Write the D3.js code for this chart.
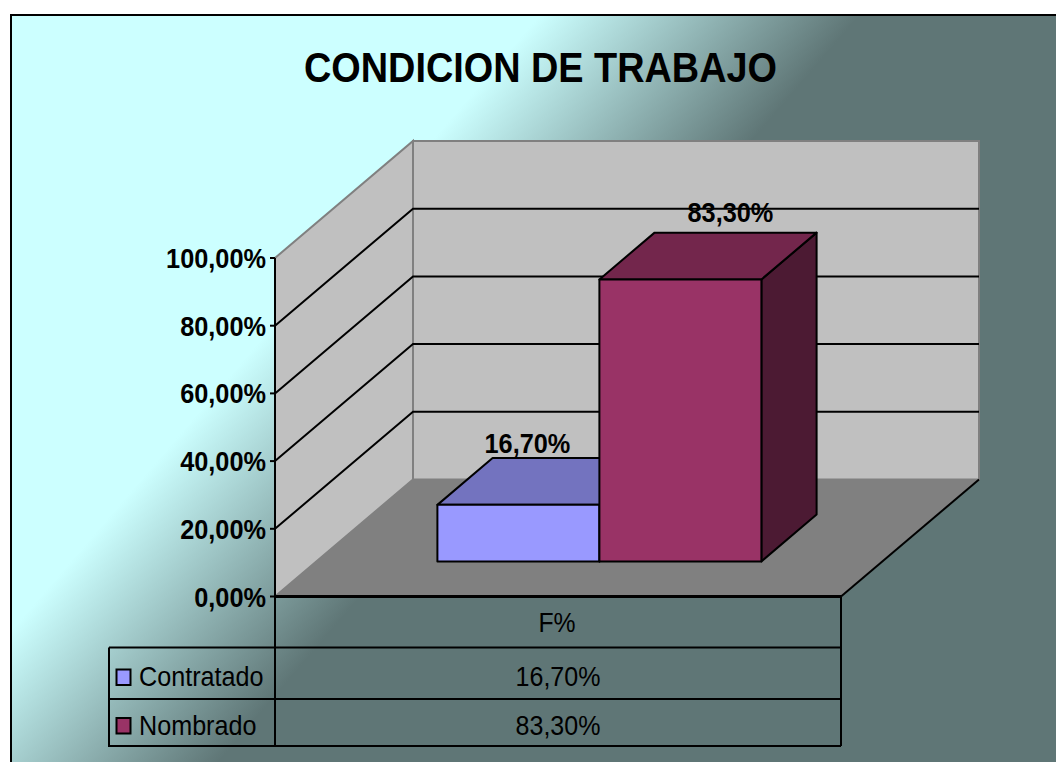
<!DOCTYPE html>
<html>
<head>
<meta charset="utf-8">
<script src="https://cdn.jsdelivr.net/npm/d3@7"></script>
<style>
  body { margin: 0; background: #fff; }
  svg { display: block; }
  text { font-family: "Liberation Sans", Arial, sans-serif; fill: #000; }
</style>
</head>
<body>
<svg width="1056" height="762"></svg>
<script>
const titleText = "CONDICION DE TRABAJO";
const groupName = "F%";
const seriesNames = ["Contratado", "Nombrado"];
const seriesValues = [16.7, 83.3];
const seriesColors = ["#9999ff", "#993366"];
const seriesTops = ["#7373bf", "#73264c"];
const seriesSides = ["#5c5c99", "#4c1a33"];
const yTicks = [0, 20, 40, 60, 80, 100];

const fmt = v => v.toFixed(2).replace(".", ",") + "%";

// the original text is narrow and tall, so squeeze it after measuring
function squeeze(sel, k) {
    sel.attr("lengthAdjust", "spacingAndGlyphs")
        .attr("textLength", function() { return this.getComputedTextLength() * k; });
}

const svg = d3.select("svg");

// frame and background
const grad = svg.append("defs").append("linearGradient")
    .attr("id", "bg")
    .attr("gradientUnits", "userSpaceOnUse")
    .attr("x1", 540).attr("y1", 15)
    .attr("x2", 724).attr("y2", 173);
grad.append("stop").attr("offset", 0).attr("stop-color", "#ccffff");
grad.append("stop").attr("offset", 1).attr("stop-color", "#5f7676");

svg.append("rect")
    .attr("x", 11).attr("y", 15)
    .attr("width", 1060).attr("height", 760)
    .attr("fill", "url(#bg)")
    .attr("stroke", "#000").attr("stroke-width", 2);

svg.append("text")
    .attr("x", 540.5).attr("y", 82)
    .attr("text-anchor", "middle")
    .attr("font-size", 42).attr("font-weight", "bold")
    .attr("textLength", 473).attr("lengthAdjust", "spacingAndGlyphs")
    .text(titleText);

// 3d projection: z 0 is the front of the floor, z 1 the back wall
const y = d3.scaleLinear().domain([0, 100]).range([596.5, 258]);
const x = d3.scaleBand().domain([groupName]).range([275, 841]);
const bars = d3.scaleBand().domain(seriesNames)
    .range([x(groupName) + 121, x(groupName) + x.bandwidth() - 121]);
const depthX = d3.scaleLinear().domain([0, 1]).range([0, 138]);
const depthY = d3.scaleLinear().domain([0, 1]).range([0, -117]);

const pt = (px, v, z) => [px + depthX(z), y(v) + depthY(z)];
const poly = pts => "M" + pts.join("L") + "Z";

const left = x.range()[0], right = x.range()[1];

const g = svg.append("g");

// walls
g.append("path")
    .attr("d", poly([pt(left, 0, 0), pt(left, 100, 0), pt(left, 100, 1), pt(left, 0, 1)]))
    .attr("fill", "#c0c0c0").attr("stroke", "#808080").attr("stroke-width", 2);
g.append("path")
    .attr("d", poly([pt(left, 0, 1), pt(left, 100, 1), pt(right, 100, 1), pt(right, 0, 1)]))
    .attr("fill", "#c0c0c0").attr("stroke", "#808080").attr("stroke-width", 2);
g.append("path")
    .attr("d", poly([pt(left, 0, 0), pt(left, 0, 1), pt(right, 0, 1), pt(right, 0, 0)]))
    .attr("fill", "#808080");
g.append("path")
    .attr("d", "M" + pt(right, 0, 0) + "L" + pt(right, 0, 1))
    .attr("stroke", "#000").attr("stroke-width", 2);

// gridlines on both walls
g.selectAll(".grid")
    .data(yTicks.slice(1, -1))
    .enter().append("path")
    .attr("class", "grid")
    .attr("fill", "none")
    .attr("stroke", "#000").attr("stroke-width", 2)
    .attr("d", d => "M" + pt(left, d, 0) + "L" + pt(left, d, 1) + "L" + pt(right, d, 1));

// bars
const zFront = 0.3, zBack = 0.7, base = 0;
seriesNames.forEach((name, i) => {
    const x0 = bars(name), x1 = x0 + bars.bandwidth();
    const v = seriesValues[i];
    const bar = g.append("g")
        .attr("stroke", "#000").attr("stroke-width", 2).attr("stroke-linejoin", "round");
    bar.append("path")
        .attr("d", poly([pt(x1, base, zFront), pt(x1, v, zFront), pt(x1, v, zBack), pt(x1, base, zBack)]))
        .attr("fill", seriesSides[i]);
    bar.append("path")
        .attr("d", poly([pt(x0, v, zFront), pt(x0, v, zBack), pt(x1, v, zBack), pt(x1, v, zFront)]))
        .attr("fill", seriesTops[i]);
    bar.append("path")
        .attr("d", poly([pt(x0, base, zFront), pt(x0, v, zFront), pt(x1, v, zFront), pt(x1, base, zFront)]))
        .attr("fill", seriesColors[i]);
});

// data labels
const labelDx = [9, 50];
const labelDy = [5, 11];
seriesNames.forEach((name, i) => {
    const p = pt(bars(name) + bars.bandwidth() / 2, seriesValues[i], zFront);
    const top = pt(bars(name), seriesValues[i], zBack);
    g.append("text")
        .attr("x", p[0] + labelDx[i])
        .attr("y", top[1] - labelDy[i])
        .attr("text-anchor", "middle")
        .attr("font-size", 27.5).attr("font-weight", "bold")
        .text(fmt(seriesValues[i]))
        .call(squeeze, 0.92);
});

// y axis labels
const axis = svg.append("g");
axis.selectAll("text")
    .data(yTicks)
    .enter().append("text")
    .attr("x", 266)
    .attr("y", d => y(d) + 10)
    .attr("text-anchor", "end")
    .attr("font-size", 27.5).attr("font-weight", "bold")
    .text(fmt)
    .call(squeeze, 0.92);
axis.selectAll("line")
    .data(yTicks)
    .enter().append("line")
    .attr("x1", 270).attr("x2", left)
    .attr("y1", d => y(d)).attr("y2", d => y(d))
    .attr("stroke", "#000").attr("stroke-width", 2);

// data table
const rowLines = [647.5, 699];
const tableBottom = 746;
const tableLeft = 109;
const table = svg.append("g").attr("stroke", "#000").attr("stroke-width", 2).attr("fill", "none");
table.append("path").attr("d", `M${left},${y(100)}V${tableBottom}`);
table.append("path").attr("d", `M${right},${y(0)}V${tableBottom}`);
table.append("path").attr("d", `M${left},${y(0)}H${right}`).attr("stroke-width", 3);
table.append("path").attr("d", `M${tableLeft},${rowLines[0]}V${tableBottom}H${right}`);
table.selectAll(".row")
    .data(rowLines)
    .enter().append("path")
    .attr("class", "row")
    .attr("d", d => `M${tableLeft},${d}H${right}`);

const rowBase = [685.5, 734.5];
const keyTop = [669.5, 718];
const center = (left + right) / 2;
const tableFont = 27.5;

svg.append("text")
    .attr("x", center - 1).attr("y", 631.5)
    .attr("text-anchor", "middle")
    .attr("font-size", tableFont)
    .text(groupName)
    .call(squeeze, 0.9);

seriesNames.forEach((name, i) => {
    svg.append("rect")
        .attr("x", 116.5).attr("y", keyTop[i])
        .attr("width", 14).attr("height", 15.5)
        .attr("fill", seriesColors[i])
        .attr("stroke", "#000").attr("stroke-width", 2);
    svg.append("text")
        .attr("x", 139).attr("y", rowBase[i])
        .attr("font-size", tableFont)
        .text(name)
        .call(squeeze, 0.915);
    svg.append("text")
        .attr("x", center).attr("y", rowBase[i])
        .attr("text-anchor", "middle")
        .attr("font-size", tableFont)
        .text(fmt(seriesValues[i]))
        .call(squeeze, 0.91);
});
</script>
</body>
</html>
